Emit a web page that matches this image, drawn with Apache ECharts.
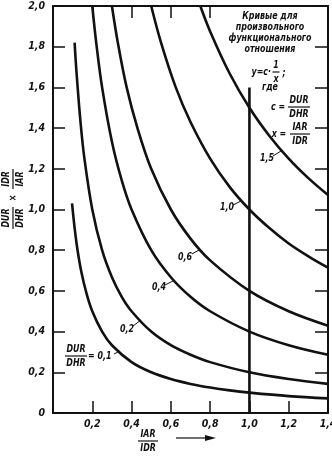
<!DOCTYPE html>
<html><head><meta charset="utf-8">
<script src="https://cdn.jsdelivr.net/npm/echarts@6/dist/echarts.min.js"></script>
<style>html,body{margin:0;padding:0;background:#fff}#c{width:332px;height:457px}</style>
</head><body><div id="c"></div>
<script>
// ---- data ----
const xTickLabels = ['0', '0,2', '0,4', '0,6', '0,8', '1,0', '1,2', '1,4'];
const yTickLabels = ['0', '0,2', '0,4', '0,6', '0,8', '1,0', '1,2', '1,4', '1,6', '1,8', '2,0'];
const curveNames = ['0,1', '0,2', '0,4', '0,6', '1,0', '1,5'];
const curve01 = [[0.097,1.03],[0.11,0.91],[0.125,0.8],[0.145,0.69],[0.17,0.59],[0.2,0.5],[0.25,0.4],[0.3,0.333],[0.4,0.25],[0.5,0.2],[0.6,0.167],[0.7,0.143],[0.8,0.125],[0.9,0.111],[1.0,0.1],[1.2,0.083],[1.4,0.072]];
const curve02 = [[0.11,1.82],[0.12,1.67],[0.14,1.43],[0.16,1.25],[0.2,1.0],[0.25,0.8],[0.3,0.667],[0.35,0.571],[0.4,0.5],[0.5,0.4],[0.6,0.333],[0.7,0.286],[0.8,0.25],[1.0,0.2],[1.2,0.167],[1.4,0.143]];
const curve04 = [[0.2,2.0],[0.22,1.82],[0.25,1.6],[0.3,1.333],[0.35,1.143],[0.4,1.0],[0.5,0.8],[0.6,0.667],[0.7,0.571],[0.8,0.5],[1.0,0.4],[1.2,0.333],[1.4,0.286]];
const curve06 = [[0.3,2.0],[0.33,1.82],[0.375,1.6],[0.43,1.4],[0.5,1.2],[0.6,1.0],[0.7,0.857],[0.8,0.75],[1.0,0.6],[1.2,0.5],[1.4,0.429]];
const curve10 = [[0.5,2.0],[0.55,1.82],[0.625,1.6],[0.7,1.43],[0.8,1.25],[0.9,1.11],[1.0,1.0],[1.1,0.91],[1.2,0.833],[1.3,0.77],[1.4,0.714]];
const curve15 = [[0.75,2.0],[0.8,1.875],[0.9,1.667],[1.0,1.5],[1.1,1.364],[1.2,1.25],[1.3,1.154],[1.4,1.071]];
const refLine = [[1.0,0],[1.0,1.6]];
const topTicks = [0.2, 0.4, 0.6, 0.8];

const FF = "'DejaVu Sans Condensed','Liberation Sans Narrow','DejaVu Sans',sans-serif";
const INK = '#111';
const SX = 0.8;

function fmt(labels, step){ return v => labels[Math.round(v/step)] || ''; }

const chart = echarts.init(document.getElementById('c'), null, {renderer:'canvas'});

function curveSeries(data){
  return {type:'line', data, smooth:0.35, symbol:'none', silent:true,
    lineStyle:{color:INK, width:2.6}, xAxisIndex:0, yAxisIndex:0, z:3};
}
const axisCommon = {min:0, splitLine:{show:false}, axisLine:{onZero:false, lineStyle:{color:INK, width:2}}};

function txt(text, x, y, align, size){
  return {type:'text', x, y, scaleX:SX, silent:true, style:{text, fill:INK, font:'italic bold '+(size||11)+'px '+FF,
    textAlign:align||'center', textVerticalAlign:'middle'}};
}
function ln(x1,y1,x2,y2,w){
  return {type:'line', silent:true, shape:{x1,y1,x2,y2}, style:{stroke:INK, lineWidth:w||1}};
}
function frac(num, den, cx, cy, w){
  return [txt(num, cx, cy-7), ln(cx-w/2, cy, cx+w/2, cy, 1.2), txt(den, cx, cy+7)];
}

const graphics = [
  // curve labels with leaders
  txt('1,5', 267, 158), ln(273,156,281,151),
  txt('1,0', 227, 207), ln(233,205,241,201),
  txt('0,6', 185, 257), ln(192,254,199,250),
  txt('0,4', 159, 287), ln(165,285,173,281),
  txt('0,2', 127, 329), ln(133,326,141,320),
  ...frac('DUR','DHR', 76, 356, 22), txt('= 0,1', 88, 356, 'left'), ln(114,354,120,351),
  // legend block
  txt('Кривые для', 270, 16),
  txt('произвольного', 270, 27),
  txt('функционального', 270, 38),
  txt('отношения', 270, 49),
  txt('y=c·', 271, 72, 'right'), ...frac('1','x', 276, 72, 7), txt(';', 284, 73),
  txt('где', 270, 87),
  txt('c =', 278, 107), ...frac('DUR','DHR', 299, 107, 22),
  txt('x =', 279, 134), ...frac('IAR','IDR', 300, 134, 20),
  // x axis title
  ...frac('IAR','IDR', 148, 441, 20),
  ln(176,438,208,438,1.2),
  {type:'polygon', silent:true, shape:{points:[[216,438],[205,435],[205,441]]}, style:{fill:INK}},
  // y axis title (rotated)
  {type:'group', x:13, y:198, rotation:Math.PI/2, silent:true, children:[
    ...frac('DUR','DHR', -20, 0, 22),
    txt('×', 0, 0),
    ...frac('IDR','IAR', 19, 0, 20)
  ]}
];

const tickFont = {color:INK, fontFamily:FF, fontStyle:'italic', fontWeight:'bold', fontSize:10.5};

chart.setOption({
  animation:false,
  backgroundColor:'#fff',
  grid:{left:53, right:4, top:6, bottom:44, containLabel:false, outerBoundsMode:'none'},
  xAxis:[
    Object.assign({}, axisCommon, {type:'value', position:'bottom', max:1.4, interval:0.2,
      axisTick:{inside:true, length:12, lineStyle:{color:INK, width:1.5}},
      axisLabel:Object.assign({formatter:fmt(xTickLabels,0.2), showMinLabel:false, margin:6}, tickFont)}),
    Object.assign({}, axisCommon, {type:'value', position:'top', max:1.4, interval:0.2,
      axisTick:{inside:true, length:12, customValues:topTicks, lineStyle:{color:INK, width:1.5}},
      axisLabel:{show:false}})
  ],
  yAxis:[
    Object.assign({}, axisCommon, {type:'value', position:'left', max:2, interval:0.2,
      axisTick:{inside:true, length:12, lineStyle:{color:INK, width:1.5}},
      axisLabel:Object.assign({formatter:fmt(yTickLabels,0.2), margin:8}, tickFont)}),
    Object.assign({}, axisCommon, {type:'value', position:'right', max:2, interval:0.2,
      axisTick:{inside:true, length:13, lineStyle:{color:INK, width:1.5}},
      axisLabel:{show:false}})
  ],
  series:[
    curveSeries(curve01), curveSeries(curve02), curveSeries(curve04),
    curveSeries(curve06), curveSeries(curve10), curveSeries(curve15),
    {type:'line', data:refLine, symbol:'none', silent:true, lineStyle:{color:INK, width:2.6}, z:4}
  ],
  graphic:graphics
});
</script></body></html>
